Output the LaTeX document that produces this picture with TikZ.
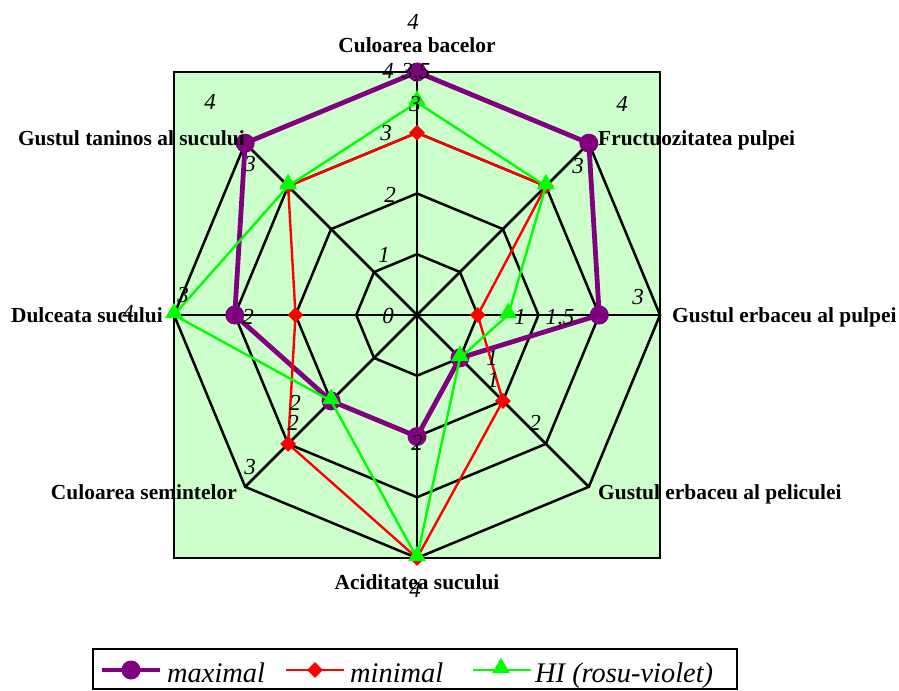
\documentclass[tikz,border=0pt]{standalone}
\usepackage{fontspec}
\setmainfont{Liberation Serif}
\usetikzlibrary{shapes.geometric,calc}
\definecolor{plotbg}{HTML}{CCFFCC}
\definecolor{maxc}{HTML}{800080}
\definecolor{minc}{HTML}{FF0000}
\definecolor{hic}{HTML}{00FF00}
\begin{document}
\begin{tikzpicture}[x=1bp,y=-1bp,
  axlab/.style={font=\fontsize{21.5}{24}\selectfont\bfseries, inner sep=0pt, anchor=base},
  val/.style={font=\fontsize{23}{25}\selectfont\itshape, inner sep=0pt, anchor=base},
  leg/.style={font=\fontsize{28.5}{30}\selectfont\itshape, inner sep=0pt, anchor=base west},
  gridline/.style={line width=2.5bp, black, line join=miter},
  maxline/.style={draw=maxc, line width=4.8bp, line join=round},
  minline/.style={draw=minc, line width=2.4bp, line join=round},
  hiline/.style={draw=hic, line width=2.4bp, line join=round},
  maxmark/.style={circle, fill=maxc, minimum size=19bp, inner sep=0pt},
  minmark/.style={diamond, fill=minc, minimum size=16bp, inner sep=0pt},
  himark/.style={regular polygon, regular polygon sides=3, fill=hic, minimum size=20.5bp, inner sep=0pt}
]
\useasboundingbox (0,0) rectangle (899,691);
% plot area
\fill[plotbg] (174,72) rectangle (660,558);
\begin{scope}[shift={(417,315)}, x=60.75bp, y=60.75bp]
  % grid rings
  \foreach \r in {1,2,3,4}
    \draw[gridline] (90:\r) -- (45:\r) -- (0:\r) -- (-45:\r) -- (-90:\r) -- (-135:\r) -- (180:\r) -- (135:\r) -- cycle;
  % spokes
  \foreach \a in {0,45,...,315}
    \draw[gridline] (0,0) -- (\a:4);
  % data coordinates
  \foreach \v [count=\i from 0] in {4,4,3,1,2,2,3,4}
    \coordinate (M\i) at ({90-45*\i}:\v);
  \foreach \v [count=\i from 0] in {3,3,1,2,4,3,2,3}
    \coordinate (N\i) at ({90-45*\i}:\v);
  \foreach \v [count=\i from 0] in {3.5,3,1.5,1,4,2,4,3}
    \coordinate (H\i) at ({90-45*\i}:\v);
\end{scope}
\draw[line width=2.2bp] (174,72) rectangle (660,558);
% series maximal
\draw[maxline] (M0)--(M1)--(M2)--(M3)--(M4)--(M5)--(M6)--(M7)--cycle;
\foreach \i in {0,...,7} \node[maxmark] (mkM\i) at (M\i) {};
% series minimal
\draw[minline] (N0)--(N1)--(N2)--(N3)--(N4)--(N5)--(N6)--(N7)--cycle;
\foreach \i in {0,...,7} \node[minmark] (mkN\i) at (N\i) {};
% series HI
\draw[hiline] (H0)--(H1)--(H2)--(H3)--(H4)--(H5)--(H6)--(H7)--cycle;
\foreach \i in {0,...,7} \node[himark] (mkH\i) at ($(H\i)+(0,-2)$) {};
% axis labels
\node[axlab] (l0) at (417,53) {Culoarea bacelor};
\node[axlab, anchor=base west] (l1) at (598,146) {Fructuozitatea pulpei};
\node[axlab, anchor=base west] (l2) at (672,322) {Gustul erbaceu al pulpei};
\node[axlab, anchor=base west] (l3) at (598,499) {Gustul erbaceu al peliculei};
\node[axlab] (l4) at (417,589) {Aciditatea sucului};
\node[axlab, anchor=base east] (l5) at (237,499) {Culoarea semintelor};
\node[axlab, anchor=base east] (l6) at (163,322) {Dulceata sucului};
\node[axlab, anchor=base east] (l7) at (245,146) {Gustul taninos al sucului};
% tick labels
\node[val] (t0) at (388,323) {0};
\node[val] (t1) at (384,262) {1};
\node[val] (t2) at (390,202) {2};
\node[val] (t3) at (386,141) {3};
\node[val] (t4) at (388,79) {4};
% data labels
\node[val] (d1) at (413,30) {4};
\node[val] (d2) at (416,79) {3,5};
\node[val] (d3) at (415,112) {3};
\node[val] (d4) at (210,110) {4};
\node[val] (d5) at (250,172) {3};
\node[val] (d6) at (622,112) {4};
\node[val] (d7) at (578,174) {3};
\node[val] (d8) at (638,304) {3};
\node[val] (d9) at (520,324) {1};
\node[val] (d10) at (560,324) {1,5};
\node[val] (d11) at (492,365) {1};
\node[val] (d12) at (493,387) {1};
\node[val] (d13) at (535,430) {2};
\node[val] (d14) at (183,302) {3};
\node[val] (d15) at (128,320) {4};
\node[val] (d16) at (248,324) {2};
\node[val] (d17) at (295,410) {2};
\node[val] (d18) at (293,430) {2};
\node[val] (d19) at (417,450) {2};
\node[val] (d20) at (250,474) {3};
\node[val] (d21) at (415,597) {4};
% legend
\draw[line width=2.2bp] (93,649) rectangle (737,689);
\coordinate (ga) at (102,670); \coordinate (gb) at (160,670);
\draw[maxline] (ga) -- (gb);
\node[maxmark] (gm) at (131,670) {};
\node[leg] (gt1) at (167,682) {maximal};
\coordinate (ra) at (286,670); \coordinate (rb) at (344,670);
\draw[minline] (ra) -- (rb);
\node[minmark] (rm) at (315,670) {};
\node[leg] (gt2) at (350,682) {minimal};
\coordinate (ha) at (473,670); \coordinate (hb) at (531,670);
\draw[hiline] (ha) -- (hb);
\node[himark] (hm) at (501,668) {};
\node[leg] (gt3) at (535,682) {HI (rosu-violet)};
\end{tikzpicture}
\end{document}
